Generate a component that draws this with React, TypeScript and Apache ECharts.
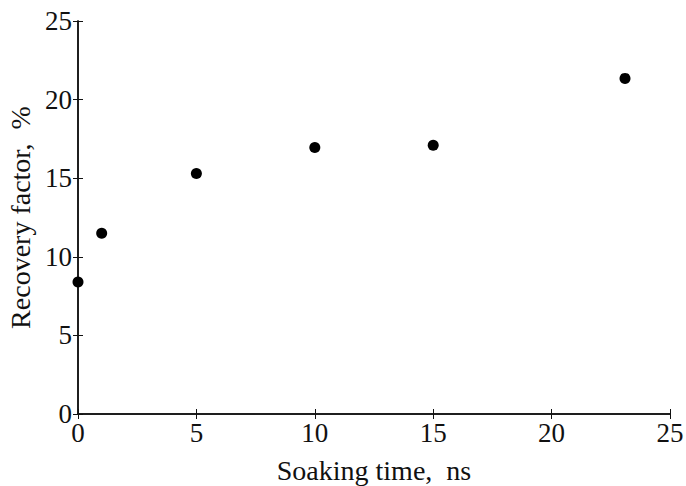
import React, { useEffect, useRef } from "react";
import * as echarts from "echarts";

const soakingTime = [0, 1, 5, 10, 15, 23.1];
const recoveryFactor = [8.4, 11.5, 15.3, 16.95, 17.1, 21.35];
const xTicks = [0, 5, 10, 15, 20, 25];
const yTicks = [0, 5, 10, 15, 20, 25];

const FONT = "Liberation Serif";

export default function App() {
  const ref = useRef<HTMLDivElement>(null);
  useEffect(() => {
    if (!ref.current) return;
    const chart = echarts.init(ref.current, undefined, { renderer: "svg" });
    const axisLine = { show: true, lineStyle: { color: "#111", width: 1.5 } };
    const tick = { show: true, inside: true, length: 5, lineStyle: { color: "#111", width: 1 } };
    const label = { fontFamily: FONT, fontSize: 27, color: "#111" };
    chart.setOption({
      animation: false,
      backgroundColor: "#fff",
      grid: { left: 78, right: 16, top: 21, bottom: 72, containLabel: false, outerBoundsMode: "none" },
      xAxis: [
        {
          type: "value",
          min: xTicks[0],
          max: xTicks[xTicks.length - 1],
          interval: 5,
          axisLine,
          axisTick: tick,
          splitLine: { show: false },
          axisLabel: { ...label, margin: 5 },
          name: "Soaking time,  ns",
          nameLocation: "middle",
          nameGap: 42,
          nameTextStyle: { ...label, fontSize: 28 },
        },
        {
          type: "value",
          position: "top",
          min: 0,
          max: 25,
          interval: 5,
          axisLine,
          axisTick: tick,
          splitLine: { show: false },
          axisLabel: { show: false },
        },
      ],
      yAxis: [
        {
          type: "value",
          min: yTicks[0],
          max: yTicks[yTicks.length - 1],
          interval: 5,
          axisLine,
          axisTick: tick,
          splitLine: { show: false },
          axisLabel: { ...label, margin: 6 },
          name: "Recovery factor,  %",
          nameLocation: "middle",
          nameGap: 43,
          nameRotate: 90,
          nameTextStyle: { ...label, fontSize: 28 },
        },
        {
          type: "value",
          position: "right",
          min: 0,
          max: 25,
          interval: 5,
          axisLine,
          axisTick: tick,
          splitLine: { show: false },
          axisLabel: { show: false },
        },
      ],
      series: [
        {
          type: "scatter",
          data: soakingTime.map((x, i) => [x, recoveryFactor[i]]),
          symbol: "circle",
          symbolSize: 11,
          itemStyle: { color: "#000", opacity: 1 },
          clip: false,
        },
      ],
    });
    return () => chart.dispose();
  }, []);
  return <div ref={ref} style={{ width: 686, height: 486, position: "absolute", left: 0, top: 0 }} />;
}
